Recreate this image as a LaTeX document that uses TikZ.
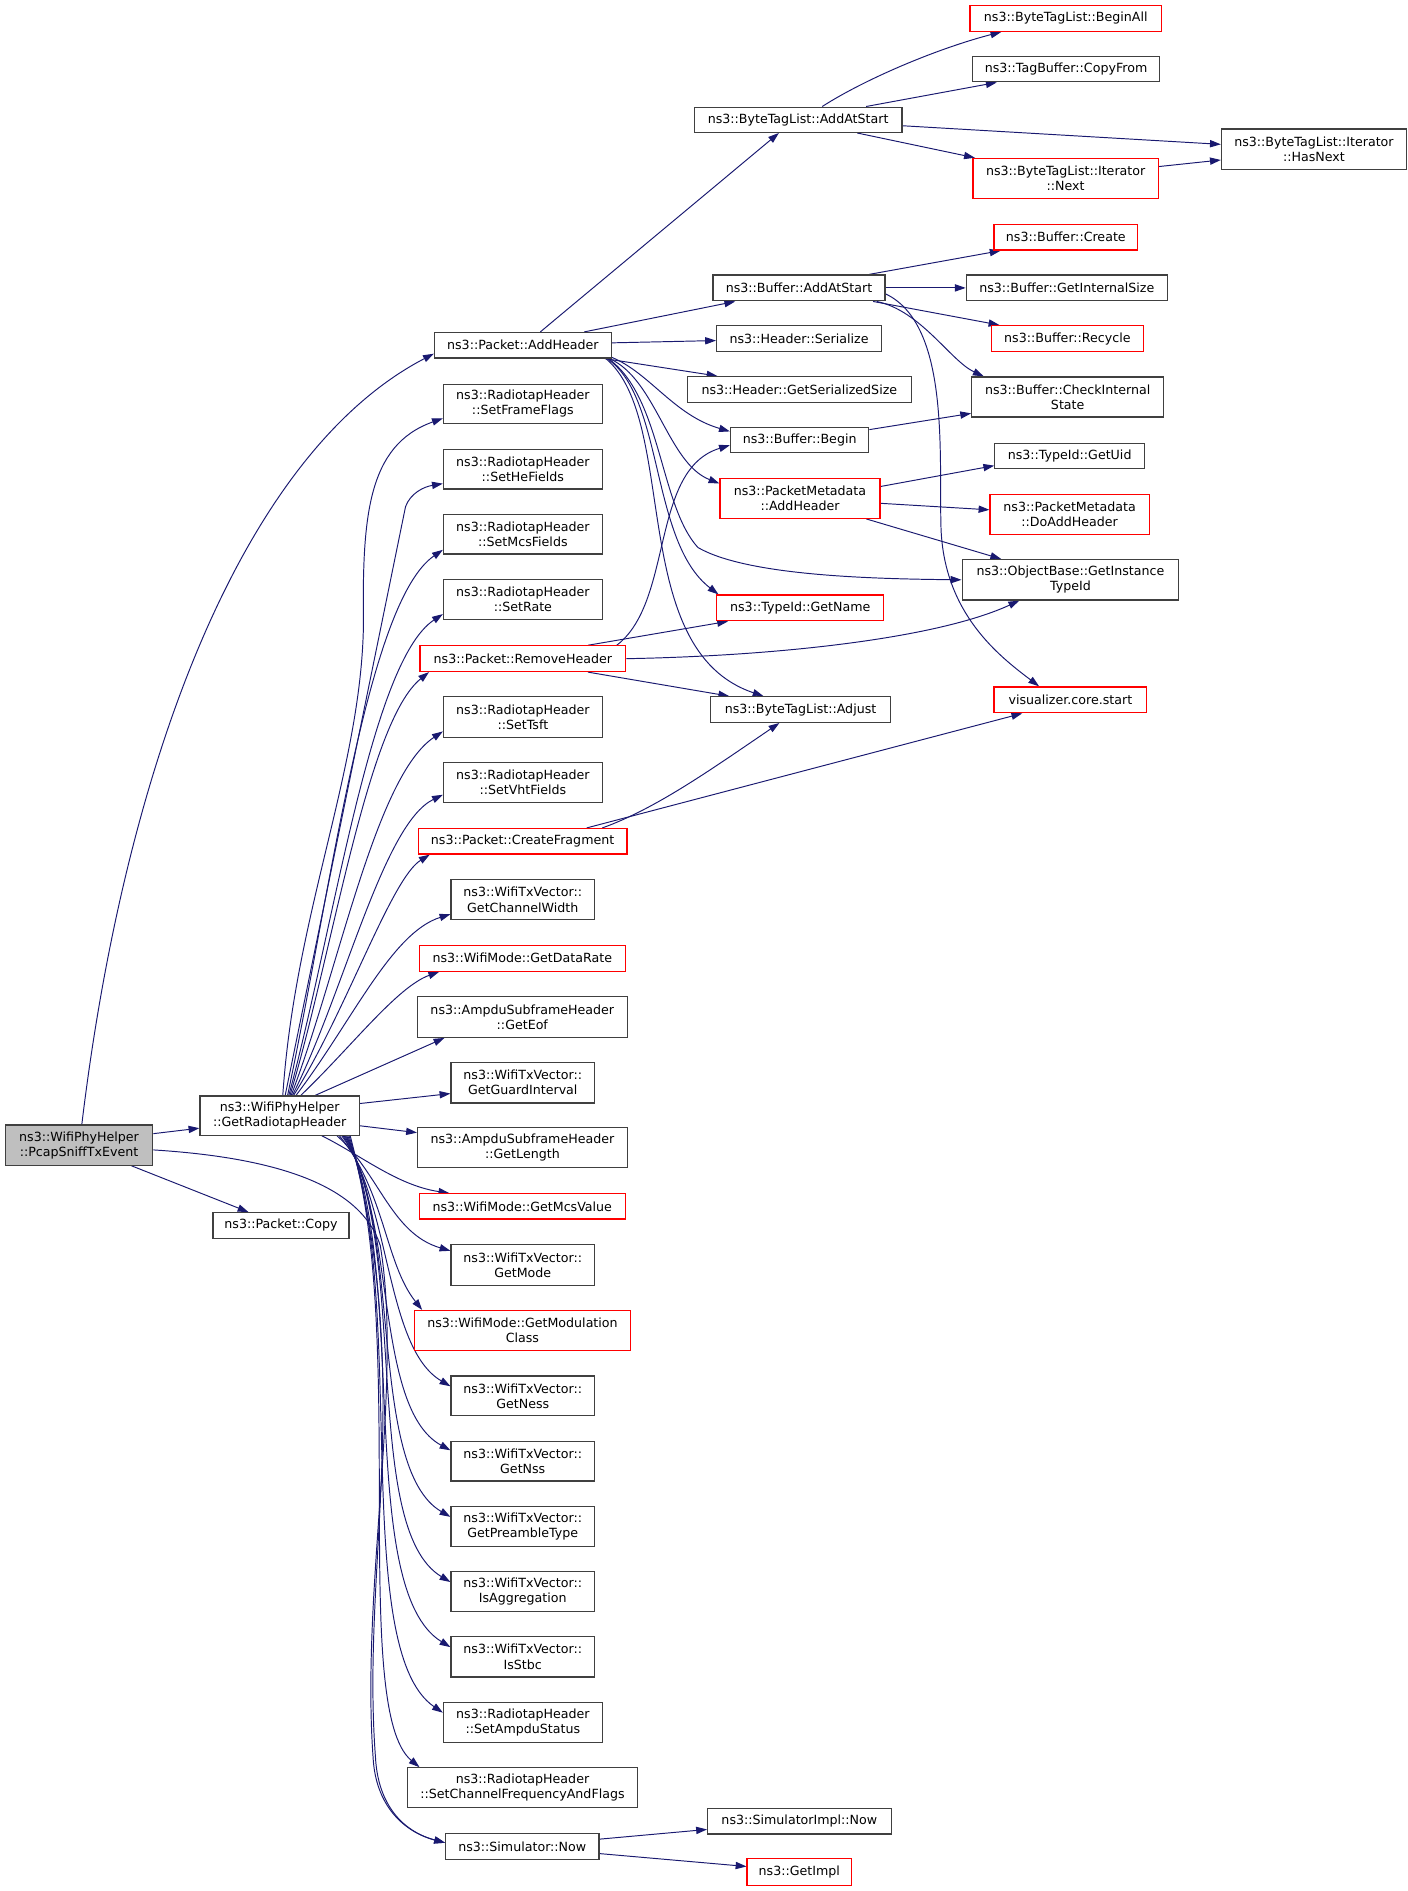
\documentclass[tikz,border=0pt]{standalone}
\usepackage{fontspec}
\setmainfont{DejaVu Sans}
\usetikzlibrary{arrows.meta,calc,backgrounds}
\definecolor{edgec}{HTML}{191970}
\definecolor{boxc}{HTML}{404040}
\definecolor{redc}{HTML}{FF0000}
\definecolor{rootc}{HTML}{BFBFBF}
\tikzset{
 box/.style={draw=boxc, line width=1pt, fill=white, rectangle, inner sep=0pt, align=center, font=\fontsize{10.5}{12.5}\selectfont, text=black},
 redbox/.style={draw=redc},
 rootbox/.style={fill=rootc},
 edge/.style={draw=edgec, line width=0.8pt, -{Triangle[length=9pt,width=6pt]}},
}
\newcommand\bx[7][]{%
 \pgfmathsetmacro\bxw{#5-#3}%
 \pgfmathsetmacro\bxh{#6-#4}%
 \pgfmathsetmacro\bxcx{(#3+#5)/2}%
 \pgfmathsetmacro\bxcy{(#4+#6)/2}%
 \node[box,#1,minimum width=\bxw pt,minimum height=\bxh pt] (#2) at (\bxcx,\bxcy) {#7};}
\begin{document}
\begin{tikzpicture}[x=1pt,y=-1pt]
\useasboundingbox (0,0) rectangle (1170,1571.4);
% left
\bx[rootbox]{P}{4.5}{934.8}{126.9}{968.3}{ns3::WifiPhyHelper\\::PcapSniffTxEvent}
\bx{GRH}{166.2}{910.7}{298.6}{943.3}{ns3::WifiPhyHelper\\::GetRadiotapHeader}
\bx{Copy}{177}{1007.7}{290}{1029}{ns3::Packet::Copy}
% middle column
\bx{AH}{361}{276.3}{508}{297.5}{ns3::Packet::AddHeader}
\bx{SFF}{368.5}{319.3}{500.5}{352}{ns3::RadiotapHeader\\::SetFrameFlags}
\bx{SHF}{368.5}{373.5}{500.5}{406.3}{ns3::RadiotapHeader\\::SetHeFields}
\bx{SMF}{368.5}{427.4}{500.5}{460.4}{ns3::RadiotapHeader\\::SetMcsFields}
\bx{SR}{368.5}{481.6}{500.5}{515}{ns3::RadiotapHeader\\::SetRate}
\bx[redbox]{RH}{349}{536.7}{520}{558}{ns3::Packet::RemoveHeader}
\bx{ST}{368.5}{579}{500.5}{612.6}{ns3::RadiotapHeader\\::SetTsft}
\bx{SVF}{368.5}{633.8}{500.5}{667}{ns3::RadiotapHeader\\::SetVhtFields}
\bx[redbox]{CF}{347.6}{688.5}{521}{709.7}{ns3::Packet::CreateFragment}
\bx{GCW}{374.8}{731}{494}{764.4}{ns3::WifiTxVector::\\GetChannelWidth}
\bx[redbox]{GDR}{348.5}{785.6}{519.6}{807}{ns3::WifiMode::GetDataRate}
\bx{GEof}{346.8}{828.4}{521.3}{862}{ns3::AmpduSubframeHeader\\::GetEof}
\bx{GGI}{374.8}{883}{494}{916.5}{ns3::WifiTxVector::\\GetGuardInterval}
\bx{GL}{347}{937}{521.3}{970.4}{ns3::AmpduSubframeHeader\\::GetLength}
\bx[redbox]{GMV}{348.4}{992}{519.6}{1013}{ns3::WifiMode::GetMcsValue}
\bx{GM}{374.8}{1034.4}{494}{1068.4}{ns3::WifiTxVector::\\GetMode}
\bx[redbox]{GMC}{344.3}{1089}{524}{1122.2}{ns3::WifiMode::GetModulation\\Class}
\bx{GNe}{374.8}{1143.4}{494}{1176.5}{ns3::WifiTxVector::\\GetNess}
\bx{GNs}{374.8}{1197.7}{494}{1230.7}{ns3::WifiTxVector::\\GetNss}
\bx{GPT}{374.8}{1252}{494}{1285}{ns3::WifiTxVector::\\GetPreambleType}
\bx{IA}{374.8}{1306}{494}{1339.3}{ns3::WifiTxVector::\\IsAggregation}
\bx{IS}{374.8}{1360}{494}{1393.5}{ns3::WifiTxVector::\\IsStbc}
\bx{SAS}{368.5}{1414.6}{500.5}{1447.8}{ns3::RadiotapHeader\\::SetAmpduStatus}
\bx{SCF}{338.6}{1469}{529.8}{1502.3}{ns3::RadiotapHeader\\::SetChannelFrequencyAndFlags}
\bx{SN}{370.3}{1523.6}{497.7}{1545}{ns3::Simulator::Now}
% right column 1
\bx{BTLA}{577}{89}{749.5}{110}{ns3::ByteTagList::AddAtStart}
\bx{BUFA}{592.5}{228.5}{735.5}{250}{ns3::Buffer::AddAtStart}
\bx{HS}{595.5}{270.6}{732.5}{292}{ns3::Header::Serialize}
\bx{GSS}{571}{313}{757.5}{334.3}{ns3::Header::GetSerializedSize}
\bx{BB}{607}{355}{722}{376}{ns3::Buffer::Begin}
\bx[redbox]{PMA}{598.3}{397.8}{731.3}{430.7}{ns3::PacketMetadata\\::AddHeader}
\bx[redbox]{GN}{595.5}{494.4}{734.5}{515.8}{ns3::TypeId::GetName}
\bx{ADJ}{590.5}{579}{740}{600.3}{ns3::ByteTagList::Adjust}
\bx{SIN}{588}{1502.5}{740.5}{1524}{ns3::SimulatorImpl::Now}
\bx[redbox]{GI}{620.8}{1544.5}{707.6}{1566.5}{ns3::GetImpl}
% right column 2
\bx[redbox]{BA}{806}{4.6}{965.3}{26}{ns3::ByteTagList::BeginAll}
\bx{CPF}{808}{47}{963.7}{68}{ns3::TagBuffer::CopyFrom}
\bx[redbox]{NX}{808.6}{131.6}{962.5}{165.2}{ns3::ByteTagList::Iterator\\::Next}
\bx[redbox]{CR}{826}{186.4}{945.4}{207.8}{ns3::Buffer::Create}
\bx{GIS}{803}{228.5}{970}{250}{ns3::Buffer::GetInternalSize}
\bx[redbox]{RC}{824}{270.6}{950}{292}{ns3::Buffer::Recycle}
\bx{CIS}{807.5}{313.3}{967}{346.5}{ns3::Buffer::CheckInternal\\State}
\bx{UID}{826.7}{368.4}{951}{389.5}{ns3::TypeId::GetUid}
\bx[redbox]{DAH}{822.7}{411}{955}{444.3}{ns3::PacketMetadata\\::DoAddHeader}
\bx{OB}{799.5}{465}{979.5}{498.6}{ns3::ObjectBase::GetInstance\\TypeId}
\bx[redbox]{VIS}{826}{570.8}{953}{592.3}{visualizer.core.start}
% right column 3
\bx{HN}{1015}{107.2}{1168.8}{140.7}{ns3::ByteTagList::Iterator\\::HasNext}

\begin{pgfonlayer}{background}
\fill[white] (0,0) rectangle (1170,1571.4);
% root edges
\draw[edge] ($(P.east)+(0,-9.5)$) -- ($(GRH.west)+(0,10.5)$);
\draw[edge] ($(P.south east)+(-18,0)$) -- ($(Copy.north west)+(30,0)$);
\draw[edge] ($(P.north)+(2.3,0)$) .. controls (104,635) and (201,377) .. ($(AH.west)+(0,7)$);
\draw[edge] ($(P.east)+(0,4)$) .. controls (230,962) and (300,985) .. (316,1035) .. controls (335,1150) and (300,1320) .. (310,1460) .. controls (312,1500) and (335,1522) .. ($(SN.west)+(0,-3)$);
% GRH upward
\draw[edge] ($(GRH.north)+(2.6,0)$) .. controls (245,760) and (300,640) .. (302,520) .. controls (301,430) and (305,370) .. ($(SFF.west)+(0,12)$);
\draw[edge] ($(GRH.north)+(4.6,0)$) -- (337,421) .. controls (341,410) and (352,404.5) .. ($(SHF.west)+(0,12)$);
\draw[edge] ($(GRH.north)+(6.6,0)$) .. controls (275,740) and (305,500) .. ($(SMF.west)+(0,13)$);
\draw[edge] ($(GRH.north)+(7.6,0)$) .. controls (278,770) and (308,550) .. ($(SR.west)+(0,12)$);
\draw[edge] ($(GRH.north)+(8.6,0)$) .. controls (277,790) and (305,600) .. ($(RH.south west)+(8,0)$);
\draw[edge] ($(GRH.north)+(9.6,0)$) .. controls (282,805) and (312,645) .. ($(ST.west)+(0,12)$);
\draw[edge] ($(GRH.north)+(10.6,0)$) .. controls (286,825) and (318,685) .. ($(SVF.west)+(0,10)$);
\draw[edge] ($(GRH.north)+(11.6,0)$) .. controls (288,840) and (325,730) .. ($(CF.south west)+(10,0)$);
\draw[edge] ($(GRH.north)+(13.6,0)$) .. controls (292,850) and (325,775) .. ($(GCW.west)+(0,12)$);
\draw[edge] ($(GRH.north)+(17.6,0)$) .. controls (292,870) and (330,820) .. ($(GDR.south west)+(17,0)$);
\draw[edge] ($(GRH.north)+(29.6,0)$) -- ($(GEof.south west)+(23,0)$);
\draw[edge] ($(GRH.east)+(0,-10)$) -- ($(GGI.west)+(0,9)$);
\draw[edge] ($(GRH.east)+(0,8.5)$) -- ($(GL.west)+(0,-12.5)$);
% GRH downward
\draw[edge] ($(GRH.south)+(35,0)$) .. controls (300,960) and (330,985) .. ($(GMV.north west)+(25.5,0)$);
\draw[edge] ($(GRH.south)+(47.6,0)$) .. controls (315,975) and (325,1025) .. ($(GM.west)+(0,-12)$);
\draw[edge] ($(GRH.south)+(49.6,0)$) .. controls (320,990) and (320,1050) .. ($(GMC.north west)+(7,0)$);
\draw[edge] ($(GRH.south)+(51.6,0)$) .. controls (325,1000) and (320,1120) .. ($(GNe.west)+(0,-8)$);
\draw[edge] ($(GRH.south)+(52.6,0)$) .. controls (330,1010) and (310,1170) .. ($(GNs.west)+(0,-9)$);
\draw[edge] ($(GRH.south)+(53.6,0)$) .. controls (335,1020) and (305,1220) .. ($(GPT.west)+(0,-8)$);
\draw[edge] ($(GRH.south)+(54.6,0)$) .. controls (340,1040) and (300,1270) .. ($(IA.west)+(0,-8)$);
\draw[edge] ($(GRH.south)+(55.6,0)$) .. controls (340,1060) and (295,1320) .. ($(IS.west)+(0,-8)$);
\draw[edge] ($(GRH.south)+(56.6,0)$) .. controls (340,1080) and (290,1370) .. ($(SAS.west)+(0,-8)$);
\draw[edge] ($(GRH.south)+(57.6,0)$) .. controls (340,1100) and (290,1420) .. ($(SCF.north west)+(10.5,0)$);
\draw[edge] ($(GRH.south)+(58.6,0)$) .. controls (345,1150) and (300,1300) .. (312,1460) .. controls (314,1500) and (335,1522) .. ($(SN.west)+(0,-3)$);
% AddHeader
\draw[edge] ($(AH.north)+(14.5,0)$) -- ($(BTLA.south)+(-16,0)$);
\draw[edge] ($(AH.north east)+(-23,0)$) -- ($(BUFA.south west)+(19,0)$);
\draw[edge] ($(AH.east)+(0,-2)$) -- ($(HS.west)+(0,1.7)$);
\draw[edge] ($(AH.south east)+(-6,0)$) -- ($(GSS.north west)+(25.7,0)$);
\draw[edge] ($(AH.south east)+(0,-1)$) .. controls (540,310) and (560,345) .. ($(BB.west)+(0,-7)$);
\draw[edge] ($(AH.south east)+(-2,0)$) .. controls (545,315) and (555,385) .. ($(PMA.west)+(0,-12.5)$);
\draw[edge] ($(AH.south east)+(-3,0)$) .. controls (550,330) and (548,420) .. (580,455) .. controls (620,478) and (720,481) .. (OB.west);
\draw[edge] ($(AH.south east)+(-4,0)$) .. controls (552,330) and (540,450) .. ($(GN.north west)+(2,0)$);
\draw[edge] ($(AH.south east)+(-5,0)$) .. controls (565,350) and (520,540) .. ($(ADJ.north west)+(44.5,0)$);
% RemoveHeader
\draw[edge] ($(RH.north east)+(-8,0)$) .. controls (560,500) and (540,390) .. ($(BB.west)+(0,4.5)$);
\draw[edge] ($(RH.north east)+(-32,0)$) -- ($(GN.south west)+(10,0)$);
\draw[edge] (RH.east) .. controls (650,545) and (780,530) .. ($(OB.south west)+(48,0)$);
\draw[edge] ($(RH.south east)+(-32,0)$) -- ($(ADJ.north west)+(16,0)$);
% CreateFragment
\draw[edge] ($(CF.north east)+(-21,0)$) .. controls (545,672) and (590,640) .. ($(ADJ.south)+(-17.6,0)$);
\draw[edge] ($(CF.north east)+(-34,0)$) -- ($(VIS.south west)+(24,0)$);
% Buffer::AddAtStart
\draw[edge] ($(BUFA.north east)+(-13.7,0)$) -- ($(CR.south west)+(6,0)$);
\draw[edge] (BUFA.east) -- (GIS.west);
\draw[edge] ($(BUFA.south east)+(-10.5,0)$) -- ($(RC.north west)+(7,0)$);
\draw[edge] ($(BUFA.south east)+(-7.5,0)$) .. controls (765,258) and (790,300) .. ($(CIS.north west)+(10.5,0)$);
\draw[edge] ($(BUFA.east)+(0,5)$) .. controls (790,270) and (780,380) .. (782,440) .. controls (785,510) and (830,545) .. ($(VIS.north west)+(38,0)$);
% Buffer::Begin
\draw[edge] ($(BB.east)+(0,-8.5)$) -- ($(CIS.west)+(0,13.6)$);
% PacketMetadata::AddHeader
\draw[edge] ($(PMA.east)+(0,-10)$) -- ($(UID.west)+(0,8)$);
\draw[edge] ($(PMA.east)+(0,4)$) -- ($(DAH.west)+(0,-4)$);
\draw[edge] ($(PMA.south east)+(-12,0)$) -- ($(OB.north west)+(33,0)$);
% ByteTagList::AddAtStart
\draw[edge] ($(BTLA.north)+(20,0)$) .. controls (720,65) and (780,40) .. ($(BA.south west)+(26.6,0)$);
\draw[edge] ($(BTLA.north)+(56.5,0)$) -- ($(CPF.south west)+(20.8,0)$);
\draw[edge] ($(BTLA.east)+(0,5)$) -- ($(HN.west)+(0,-4)$);
\draw[edge] ($(BTLA.south)+(49,0)$) -- ($(NX.north west)+(2,0)$);
\draw[edge] ($(NX.east)+(0,-10)$) -- ($(HN.west)+(0,9)$);
% Simulator::Now
\draw[edge] ($(SN.east)+(0,-6)$) -- ($(SIN.west)+(0,7)$);
\draw[edge] ($(SN.east)+(0,6)$) -- ($(GI.west)+(0,-4.5)$);
\end{pgfonlayer}
\end{tikzpicture}
\end{document}
